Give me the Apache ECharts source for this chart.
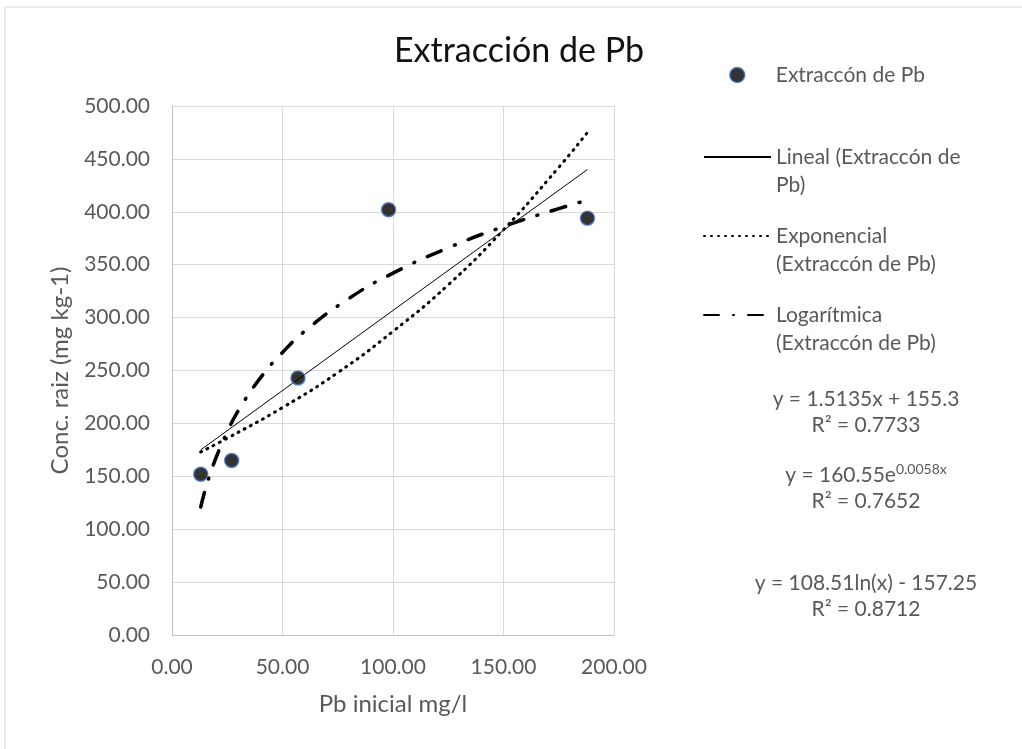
<!DOCTYPE html>
<html>
<head>
<meta charset="utf-8">
<script src="https://cdn.jsdelivr.net/npm/echarts@6/dist/echarts.min.js"></script>
<style>
  html, body {margin: 0; padding: 0; background: #fff;}
  #chart {width: 1022px; height: 749px;}
</style>
</head>
<body>
<div id="chart"></div>
<script>
// measured points
const pbInicial = [13, 27, 57, 98, 188]
const concRaiz = [152, 165, 243, 402, 394]

// trendlines
const linealX = [13, 188]
const linealY = [175, 440]
const expX = [13, 25, 50, 75, 100, 125, 150, 175, 188]
const expY = [173, 186, 215, 248, 287, 331, 383, 442, 475]
const logX = [13, 16, 20, 25, 30, 40, 50, 60, 80, 100, 125, 150, 175, 188]
const logY = [121, 144, 168, 192, 212, 243, 267, 287, 318, 342, 366, 386, 403, 411]

const seriesNames = [
  'Extraccón de Pb',
  'Lineal (Extraccón de Pb)',
  'Exponencial (Extraccón de Pb)',
  'Logarítmica (Extraccón de Pb)'
]
const legendLabels = [
  'Extraccón de Pb',
  '\nLineal (Extraccón de\nPb)',
  '\nExponencial\n(Extraccón de Pb)',
  '\nLogarítmica\n(Extraccón de Pb)'
]
const legendTops = [61, 115, 194, 273]
const legendLefts = [729, 703, 703, 703]

const font = 'Lato, "Open Sans", sans-serif'
const grey = '#595959'
const dotStyle = {color: '#000', borderColor: '#4472C4', borderWidth: 1.5}

const zip = (xs, ys) => xs.map((x, i) => [x, ys[i]])

const chart = echarts.init(document.getElementById('chart'))

const legends = seriesNames.map((name, i) => ({
  data: [name],
  left: legendLefts[i],
  top: legendTops[i],
  padding: 0,
  itemWidth: 67,
  itemHeight: 15,
  selectedMode: false,
  itemStyle: i > 0 ? {opacity: 0} : dotStyle,
  formatter: () => legendLabels[i],
  textStyle: {color: grey, fontSize: 21, fontFamily: font, lineHeight: 28}
}))

const axisText = {color: grey, fontSize: 21, fontFamily: font}

chart.setOption({
  animation: false,
  backgroundColor: '#fff',
  title: {
    text: 'Extracción de Pb',
    left: 514,
    top: 29,
    textAlign: 'center',
    textStyle: {color: '#111', fontSize: 34, fontWeight: 'normal', fontFamily: font}
  },
  legend: legends,
  grid: {left: 172, top: 106, right: 408, bottom: 114},
  xAxis: {
    type: 'value',
    min: 0, max: 200, interval: 50,
    name: 'Pb inicial mg/l',
    nameLocation: 'middle',
    nameGap: 57,
    nameTextStyle: {color: grey, fontSize: 24, fontFamily: font},
    axisLine: {show: true, lineStyle: {color: '#bfbfbf'}},
    axisTick: {show: false},
    axisLabel: Object.assign({margin: 22, formatter: v => v.toFixed(2)}, axisText),
    splitLine: {show: true, lineStyle: {color: '#d9d9d9'}}
  },
  yAxis: {
    type: 'value',
    min: 0, max: 500, interval: 50,
    name: 'Conc. raiz (mg kg-1)',
    nameLocation: 'middle',
    nameGap: 100,
    nameTextStyle: {color: grey, fontSize: 24, fontFamily: font},
    axisLine: {show: true, lineStyle: {color: '#bfbfbf'}},
    axisTick: {show: false},
    axisLabel: Object.assign({margin: 22, formatter: v => v.toFixed(2)}, axisText),
    splitLine: {show: true, lineStyle: {color: '#d9d9d9'}}
  },
  graphic: [
    {type: 'rect', shape: {x: 5, y: 7, width: 1040, height: 760}, style: {fill: 'none', stroke: '#d9d9d9', lineWidth: 1}, silent: true, z: -1},
    {type: 'text', x: 866, y: 412, style: {text: 'y = 1.5135x + 155.3\nR² = 0.7733', textAlign: 'center', textVerticalAlign: 'middle', fill: grey, fontSize: 21, fontFamily: font, lineHeight: 26}},
    {type: 'text', x: 866, y: 488, style: {text: '{b|y = 160.55e}{s|0.0058x}\n{b|R² = 0.7652}', textAlign: 'center', textVerticalAlign: 'middle', fill: grey, fontFamily: font,
      rich: {b: {fontSize: 21, lineHeight: 26, fill: grey, fontFamily: font}, s: {fontSize: 14, fill: grey, fontFamily: font, padding: [0, 0, 12, 0]}}}},
    {type: 'text', x: 866, y: 596, style: {text: 'y = 108.51ln(x) - 157.25\nR² = 0.8712', textAlign: 'center', textVerticalAlign: 'middle', fill: grey, fontSize: 21, fontFamily: font, lineHeight: 26}}
  ],
  series: [
    {
      name: seriesNames[0],
      type: 'scatter',
      data: zip(pbInicial, concRaiz),
      symbolSize: 14,
      itemStyle: dotStyle,
      z: 5
    },
    {
      name: seriesNames[1],
      type: 'line',
      data: zip(linealX, linealY),
      symbol: 'none',
      lineStyle: {color: '#000', width: 1}
    },
    {
      name: seriesNames[2],
      type: 'line',
      data: zip(expX, expY),
      symbol: 'none',
      smooth: true,
      lineStyle: {color: '#000', width: 3, type: [1, 6], cap: 'round'}
    },
    {
      name: seriesNames[3],
      type: 'line',
      data: zip(logX, logY),
      symbol: 'none',
      smooth: true,
      lineStyle: {color: '#000', width: 3.5, type: [15, 14, 1, 14], cap: 'round'}
    }
  ]
})
</script>
</body>
</html>
